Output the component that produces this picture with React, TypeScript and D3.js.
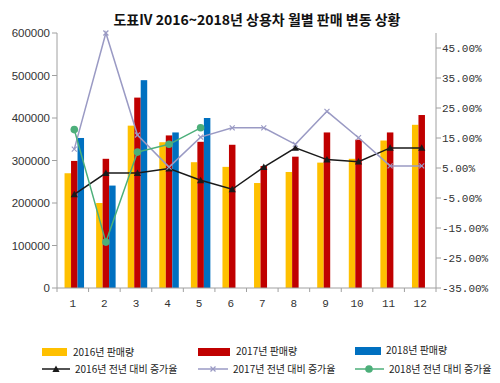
import React from "react";
import * as d3 from "d3";

const months = ["1", "2", "3", "4", "5", "6", "7", "8", "9", "10", "11", "12"];
const sales2016 = [270000, 200000, 382000, 343000, 296000, 285000, 247000, 273000, 295000, 304000, 347000, 384000];
const sales2017 = [299000, 304000, 448000, 359000, 344000, 337000, 287000, 309000, 366000, 349000, 366000, 407000];
const sales2018 = [353000, 241000, 489000, 366000, 400000];
const growth2016 = [-3.8, 3.3, 3.3, 4.8, 0.9, -2.1, 5.3, 11.7, 7.8, 7.1, 11.7, 11.7];
const growth2017 = [11.3, 50, 16, 5.3, 15.3, 18.4, 18.4, 12.9, 23.9, 15.1, 5.7, 5.7];
const growth2018 = [17.8, -19.7, 10.3, 12.9, 18.4];
const leftTicks = [0, 100000, 200000, 300000, 400000, 500000, 600000];
const rightTicks = [-35, -25, -15, -5, 5, 15, 25, 35, 45];

const C16 = "#FFC000";
const C17 = "#C00000";
const C18 = "#0070C0";
const L16 = "#1a1a1a";
const L17 = "#9a9ac4";
const L18 = "#4caf7a";
const AX = "#a0a0a0";

export default function App() {
  const W = 500, H = 383;
  const x0 = 57, x1 = 436, yTop = 33, yBot = 288;
  const x = d3.scaleBand<string>().domain(months).range([x0, x1]).padding(0);
  const inner = d3.scaleBand<string>().domain(["a", "b", "c"]).range([0, x.bandwidth()]).paddingInner(0).paddingOuter(0.93);
  const yL = d3.scaleLinear().domain([0, 600000]).range([yBot, yTop]);
  const yR = d3.scaleLinear().domain([-35, 50]).range([yBot, yTop]);
  const cx = (i: number) => (x(months[i]) as number) + x.bandwidth() / 2 + 1.5;

  const line = (vals: number[]) =>
    d3.line<number>().x((_, i) => cx(i)).y((v) => yR(v))(vals) as string;

  const bars = (vals: number[], key: string, color: string) =>
    vals.map((v, i) => (
      <rect key={key + i} x={(x(months[i]) as number) + (inner(key) as number) + 1.5} y={yL(v)}
        width={inner.bandwidth()} height={yBot - yL(v)} fill={color} />
    ));

  const tri = (px: number, py: number, s = 3.6) =>
    `M${px},${py - s} L${px + s},${py + s * 0.8} L${px - s},${py + s * 0.8} Z`;

  const xMark = (px: number, py: number, k: string) => (
    <g key={k} stroke={L17} strokeWidth={1.2}>
      <line x1={px - 2.5} y1={py - 2.5} x2={px + 2.5} y2={py + 2.5} />
      <line x1={px - 2.5} y1={py + 2.5} x2={px + 2.5} y2={py - 2.5} />
    </g>
  );

  const legendFont = { fontFamily: "'Noto Sans CJK KR', sans-serif", fontSize: 10, fill: "#222" };

  return (
    <svg width={W} height={H} style={{ position: "absolute", left: 0, top: 0, background: "#fff" }}>
      <rect x={0} y={0} width={W} height={H} fill="#fff" />
      <text x={257} y={25} textAnchor="middle" fontFamily="'Noto Sans CJK KR', sans-serif" fontWeight="bold" fontSize={14} fill="#111">
        도표IV 2016~2018년 상용차 월별 판매 변동 상황
      </text>

      {bars(sales2016, "a", C16)}
      {bars(sales2017, "b", C17)}
      {bars(sales2018, "c", C18)}

      {/* axes */}
      <line x1={x0} y1={yTop} x2={x0} y2={yBot} stroke={AX} />
      <line x1={x1} y1={yTop} x2={x1} y2={yBot} stroke={AX} />
      <line x1={x0} y1={yBot} x2={x1} y2={yBot} stroke={AX} />
      {leftTicks.map((t) => (
        <g key={"l" + t}>
          <line x1={x0 - 5} x2={x0} y1={yL(t)} y2={yL(t)} stroke={AX} />
          <text x={x0 - 7} y={yL(t) + 4} textAnchor="end" fontFamily="'Liberation Sans', Arial, sans-serif" fontSize={11.5} fill="#333">{t}</text>
        </g>
      ))}
      {rightTicks.map((t) => (
        <g key={"r" + t}>
          <line x1={x1} x2={x1 + 5} y1={yR(t)} y2={yR(t)} stroke={AX} />
          <text x={x1 + 6} y={yR(t) + 4} fontFamily="'Liberation Mono', monospace" fontSize={11} fill="#333">{t.toFixed(2) + "%"}</text>
        </g>
      ))}
      {months.map((m, i) => (
        <g key={"x" + m}>
          <line x1={(x(m) as number) + x.bandwidth()} x2={(x(m) as number) + x.bandwidth()} y1={yBot} y2={yBot + 4} stroke={AX} />
          <text x={(x(m) as number) + x.bandwidth() / 2} y={307} textAnchor="middle" fontFamily="'Liberation Mono', monospace" fontSize={11} fill="#333">{m}</text>
        </g>
      ))}
      <line x1={x0} x2={x0} y1={yBot} y2={yBot + 4} stroke={AX} />

      {/* lines */}
      <path d={line(growth2016)} fill="none" stroke={L16} strokeWidth={1.5} />
      {growth2016.map((v, i) => <path key={"t" + i} d={tri(cx(i), yR(v))} fill={L16} />)}
      <path d={line(growth2017)} fill="none" stroke={L17} strokeWidth={1.5} />
      {growth2017.map((v, i) => xMark(cx(i), yR(v), "m" + i))}
      <path d={line(growth2018)} fill="none" stroke={L18} strokeWidth={1.5} />
      {growth2018.map((v, i) => <circle key={"c" + i} cx={cx(i)} cy={yR(v)} r={3.8} fill={L18} />)}

      {/* legend */}
      <rect x={42} y={348} width={25} height={8} fill={C16} />
      <text x={73} y={356} {...legendFont}>2016년 판매량</text>
      <rect x={198} y={348} width={32} height={8} fill={C17} />
      <text x={236} y={355} {...legendFont}>2017년 판매량</text>
      <rect x={355} y={347} width={26} height={8} fill={C18} />
      <text x={386} y={354} {...legendFont}>2018년 판매량</text>

      <line x1={42} x2={70} y1={369} y2={369} stroke={L16} strokeWidth={1.5} />
      <path d={tri(56, 369)} fill={L16} />
      <text x={75} y={373} {...legendFont}>2016년 전년 대비 증가율</text>
      <line x1={198} x2={228} y1={369} y2={369} stroke={L17} strokeWidth={1.5} />
      {xMark(213, 369, "lg17")}
      <text x={233} y={373} {...legendFont}>2017년 전년 대비 증가율</text>
      <line x1={355} x2={384} y1={369} y2={369} stroke={L18} strokeWidth={1.5} />
      <circle cx={369} cy={369} r={3.8} fill={L18} />
      <text x={389} y={373} {...legendFont}>2018년 전년 대비 증가율</text>
    </svg>
  );
}
